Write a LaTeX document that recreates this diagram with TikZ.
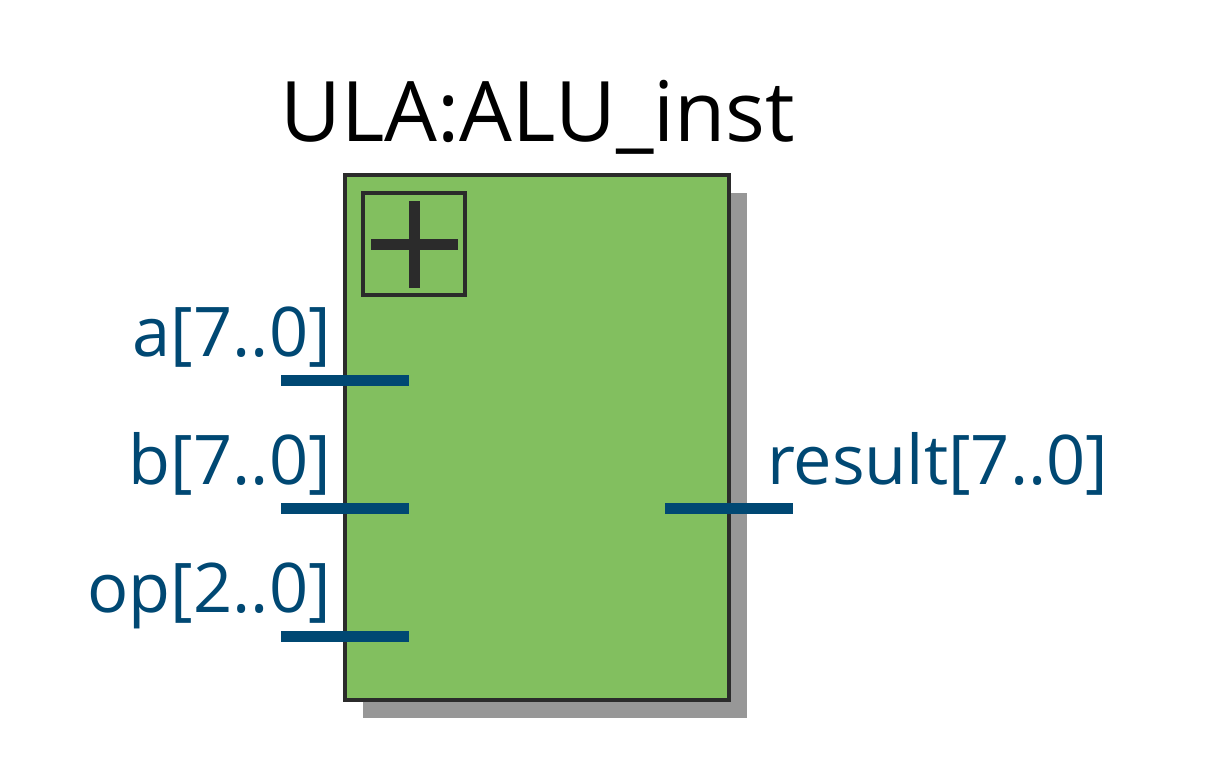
\documentclass[tikz,border=0pt]{standalone}
\usepackage{fontspec}
\setmainfont{Open Sans}
\definecolor{blockgreen}{HTML}{82BF5F}
\definecolor{edgedark}{HTML}{2B2B2B}
\definecolor{portblue}{HTML}{004873}
\definecolor{shadowgrey}{HTML}{979797}
\tikzset{
  pxunit/.style={x=1pt,y=-1pt},
  portlabel/.style={text=portblue,font=\fontsize{68.5}{68.5}\selectfont,inner sep=0pt},
  portline/.style={draw=portblue,line width=11pt},
}
\begin{document}
\begin{tikzpicture}[pxunit]
\useasboundingbox (0,0) rectangle (1207,772);
\fill[white] (0,0) rectangle (1207,772);
\node[fill=shadowgrey,inner sep=0pt,minimum width=384pt,minimum height=525pt,anchor=north west] (shadow) at (363,193) {};
\node[draw=edgedark,line width=3.6pt,fill=blockgreen,inner sep=0pt,minimum width=384pt,minimum height=525pt,anchor=north west] (block) at (343.3,173.3) {};
\node[draw=edgedark,line width=3.6pt,inner sep=0pt,minimum width=102pt,minimum height=102pt,anchor=north west] (plusbox) at (361.3,191.3) {};
\draw[edgedark,line width=11pt] (371,244) -- (458,244);
\draw[edgedark,line width=11pt] (414.5,201) -- (414.5,288);
\node[anchor=base,inner sep=0pt,font=\fontsize{83.5}{83.5}\selectfont] (title) at (538,141) {ULA:ALU\_inst};
\coordinate (a1) at (281,380); \coordinate (a2) at (409,380);
\coordinate (b1) at (281,508); \coordinate (b2) at (409,508);
\coordinate (c1) at (281,636); \coordinate (c2) at (409,636);
\coordinate (r1) at (665,508); \coordinate (r2) at (793,508);
\draw[portline] (a1) -- (a2);
\draw[portline] (b1) -- (b2);
\draw[portline] (c1) -- (c2);
\draw[portline] (r1) -- (r2);
\node[portlabel,anchor=base east] (la) at (331,356) {a[7..0]};
\node[portlabel,anchor=base east] (lb) at (331,484) {b[7..0]};
\node[portlabel,anchor=base east] (lc) at (331,612) {op[2..0]};
\node[portlabel,anchor=base west] (lr) at (767,484) {result[7..0]};
\end{tikzpicture}
\end{document}
